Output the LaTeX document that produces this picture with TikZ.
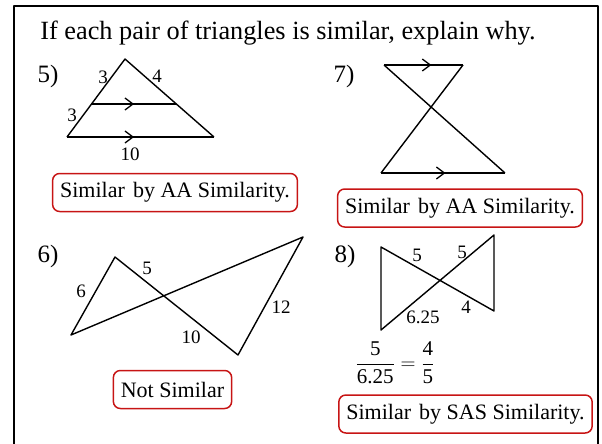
\documentclass[tikz,border=0pt]{standalone}
\usepackage{fontspec}
\setmainfont{Liberation Serif}
\usepackage{amsmath}
\usetikzlibrary{arrows.meta,decorations.markings}
\definecolor{boxred}{rgb}{0.78,0.08,0.08}

\begin{document}
\begin{tikzpicture}[x=1pt,y=-1pt,line width=1.4pt,line join=round,
	par/.style={postaction={decorate},decoration={markings,
		mark=at position #1 with {\arrow{Straight Barb[length=8pt,width=12pt,line width=1.3pt]}}}},
	lbl/.style={font=\fontsize{19}{21}\selectfont,inner sep=0pt},
	num/.style={font=\fontsize{25}{28}\selectfont,inner sep=0pt},
	ans/.style={draw=boxred,line width=1.5pt,rounded corners=7pt,
		font=\fontsize{22}{24}\selectfont,inner xsep=7.5pt,minimum height=38pt}]
	\useasboundingbox (0,0) rectangle (602,444);
	\draw[line width=2pt] (14,444)--(14,6)--(598,6)--(598,444);
	\node[font=\fontsize{26.3}{30}\selectfont] (title) at (288,33) {If each pair of triangles is similar, explain why.};

	% 5)
	\node[num] (n5) at (48,76) {5)};
	\coordinate (top5) at (125,59);
	\coordinate (bl5) at (67,137);
	\coordinate (br5) at (214,137);
	\coordinate (ml5) at (92,104);
	\coordinate (mr5) at (176,104);
	\draw (bl5)--(top5)--(br5);
	\draw[par=0.456] (bl5)--(br5);
	\draw[par=0.5] (ml5)--(mr5);
	\node[lbl] (a5) at (103,77) {3};
	\node[lbl] (b5) at (157,76) {4};
	\node[lbl] (c5) at (72,115) {3};
	\node[lbl] (d5) at (130,154) {10};
	\node[ans] (s5) at (175,192.5) {Similar\hspace{0.12em} by AA Similarity.};

	% 7)
	\node[num] (n7) at (344,76) {7)};
	\coordinate (tl7) at (384,65);
	\coordinate (tr7) at (463,65);
	\coordinate (bl7) at (381,173);
	\coordinate (br7) at (505,173);
	\draw (tl7)--(br7);
	\draw (tr7)--(bl7);
	\draw[par=0.6] (tl7)--(tr7);
	\draw[par=0.52] (bl7)--(br7);
	\node[ans] (s7) at (460,208) {Similar\hspace{0.12em} by AA Similarity.};

	% 6)
	\node[num] (n6) at (48,256) {6)};
	\coordinate (p6) at (115,257);
	\coordinate (q6) at (71,335);
	\coordinate (r6) at (303,237);
	\coordinate (s6) at (238,355);
	\draw (q6)--(p6)--(s6)--(r6)--cycle;
	\node[lbl] (a6) at (81,291) {6};
	\node[lbl] (b6) at (147,268) {5};
	\node[lbl] (c6) at (191,337) {10};
	\node[lbl] (d6) at (281,307) {12};
	\node[ans] (s6n) at (172.5,389.5) {Not Similar};

	% 8)
	\node[num] (n8) at (345,256) {8)};
	\coordinate (tl8) at (381,247);
	\coordinate (bl8) at (381,330);
	\coordinate (tr8) at (494,235);
	\coordinate (br8) at (494,311);
	\draw (tl8)--(br8)--(tr8)--(bl8)--cycle;
	\node[lbl] (a8) at (417,255) {5};
	\node[lbl] (b8) at (462,252) {5};
	\node[lbl] (c8) at (466,307) {4};
	\node[lbl] (d8) at (423,317) {6.25};
	\node[lbl,font=\fontsize{21}{23}\selectfont] (eq8) at (395,363) {$\dfrac{\mbox{5}}{\mbox{6.25}}=\dfrac{\mbox{4}}{\mbox{5}}$};
	\node[ans] (s8) at (465.5,414) {Similar\hspace{0.12em} by SAS Similarity.};
\end{tikzpicture}
\end{document}
